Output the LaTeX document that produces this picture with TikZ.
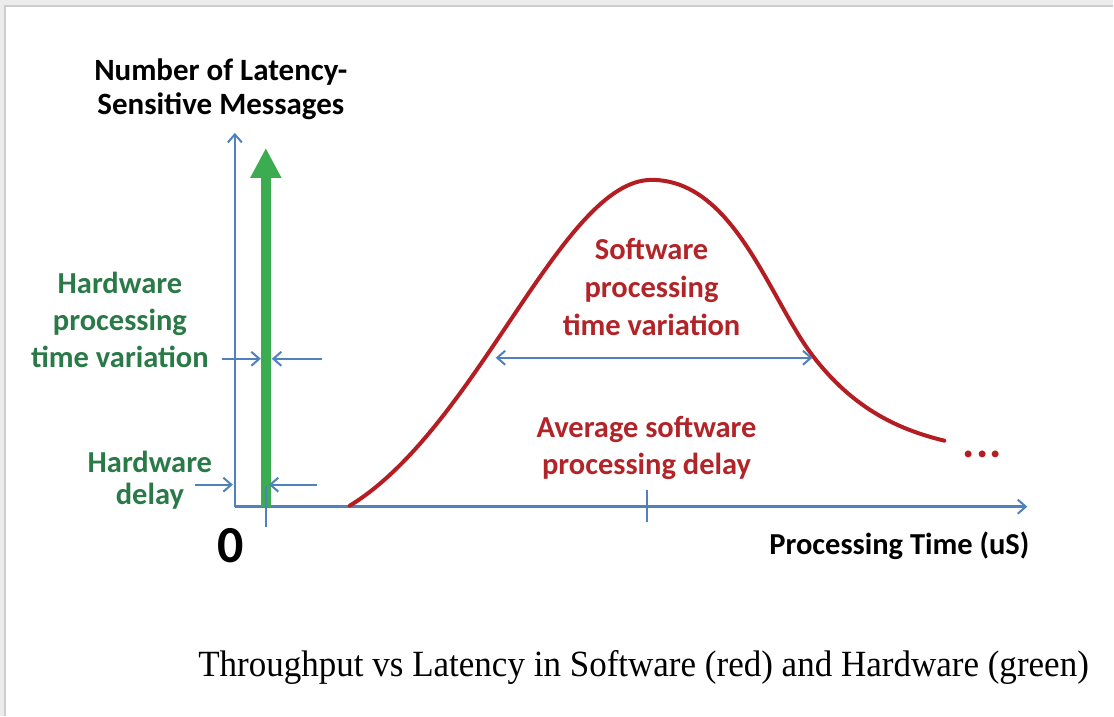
\documentclass[tikz,border=0pt]{standalone}
\usepackage{fontspec}
\setmainfont{Carlito}
\newfontfamily\capfont{Liberation Serif}
\usetikzlibrary{arrows.meta}
\definecolor{axisblue}{RGB}{79,129,189}
\definecolor{hwgreen}{RGB}{60,172,80}
\definecolor{hwtext}{RGB}{42,122,72}
\definecolor{swred}{RGB}{180,30,34}
\definecolor{swtext}{RGB}{178,36,40}
\definecolor{framegray}{RGB}{236,236,236}
\definecolor{frameline}{RGB}{205,205,205}
\begin{document}
\begin{tikzpicture}[x=1pt,y=-1pt,
  axisline/.style={draw=axisblue, line width=2.4pt, -{Straight Barb[length=8pt,width=14pt,line width=2pt]}},
  dimline/.style={draw=axisblue, line width=2pt, -{Straight Barb[length=8pt,width=14pt,line width=2pt]}},
  twoway/.style={draw=axisblue, line width=2pt, {Straight Barb[length=8pt,width=14pt,line width=2pt]}-{Straight Barb[length=8pt,width=14pt,line width=2pt]}},
  tickline/.style={draw=axisblue, line width=2pt},
  lbl/.style={align=center, inner sep=0pt},
  hwlab/.style={lbl, text=hwtext},
  swlab/.style={lbl, text=swtext},
  blacklab/.style={lbl, text=black}
]
% frame
\fill[framegray] (0,0) rectangle (1114,716);
\fill[white] (6,7) rectangle (1114,716);
\draw[frameline, line width=1.5pt] (5,716) -- (5,6) -- (1114,6);
\useasboundingbox (0,0) rectangle (1114,716);

% axes
\coordinate (O) at (235,507);
\coordinate (ytip) at (235,133);
\coordinate (xtip) at (1028,507);
\draw[axisline] (O) -- (ytip);
\draw[axisline] (O) -- (xtip);

% green hardware arrow
\coordinate (gbase) at (266,507);
\coordinate (gtip) at (266,148);
\draw[draw=hwgreen, line width=10pt, -{Triangle[length=30pt,width=29pt]}] (gbase) -- (gtip);
\coordinate (htick1) at (266,486);
\coordinate (htick2) at (266,527);
\draw[tickline] (htick1) -- (htick2);

% software tick
\coordinate (stick1) at (647,490);
\coordinate (stick2) at (647,522);
\draw[tickline] (stick1) -- (stick2);

% labels
\node[blacklab, font=\bfseries\fontsize{31}{34}\selectfont] (ytitle) at (221,89) {Number of Latency-\\Sensitive Messages};
\node[hwlab, font=\bfseries\fontsize{30.5}{37}\selectfont] (hwvar) at (120,320) {Hardware\\processing\\time variation};
\node[hwlab, font=\bfseries\fontsize{30.5}{32}\selectfont] (hwdel) at (150,481) {Hardware\\delay};
\node[swlab, font=\bfseries\fontsize{30.5}{38}\selectfont] (swvar) at (652,287) {Software\\processing\\time variation};
\node[swlab, font=\bfseries\fontsize{30.5}{37}\selectfont] (swavg) at (647,448) {Average software\\processing delay};
\node[blacklab, font=\bfseries\fontsize{52}{52}\selectfont] (zero) at (231,546) {0};
\node[blacklab, font=\bfseries\fontsize{30.5}{32}\selectfont] (xlab) at (900,546) {Processing Time (uS)};
\node[swlab, text=swred, font=\bfseries\fontsize{46}{46}\selectfont] (dots) at (983,455) {.\hspace{1.5pt}.\hspace{1.5pt}.};
\node[inner sep=0pt] (caption) at (644,668) {\scalebox{0.947}[1]{\capfont\fontsize{37}{40}\selectfont Throughput vs Latency in Software (red) and Hardware (green)}};

% hardware dimension arrows
\coordinate (hv1) at (222,359);
\coordinate (hv2) at (261,359);
\coordinate (hv3) at (322,359);
\coordinate (hv4) at (272,359);
\draw[dimline] (hv1) -- (hv2);
\draw[dimline] (hv3) -- (hv4);
\coordinate (hd1) at (195,485);
\coordinate (hd2) at (233,485);
\coordinate (hd3) at (317,485);
\coordinate (hd4) at (269,485);
\draw[dimline] (hd1) -- (hd2);
\draw[dimline] (hd3) -- (hd4);

% software curve
\coordinate (c0) at (350,506);
\coordinate (cpeak) at (652,180);
\coordinate (cmid) at (814,357);
\coordinate (cend) at (945,441);
\draw[swred, line width=4pt, line cap=round]
  (c0) .. controls (478,428) and (562,180) .. (cpeak)
  .. controls (735,180) and (770,300) .. (cmid)
  .. controls (855,410) and (900,430) .. (cend);

% software variation arrow
\coordinate (sv1) at (496,358);
\coordinate (sv2) at (813,358);
\draw[twoway] (sv1) -- (sv2);
\end{tikzpicture}
\end{document}
